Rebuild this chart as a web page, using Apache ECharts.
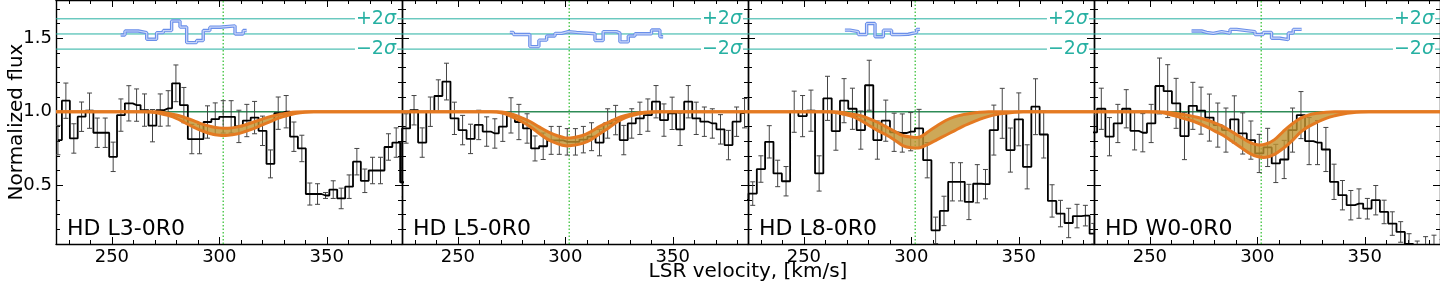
<!DOCTYPE html>
<html><head><meta charset="utf-8">
<script src="https://cdn.jsdelivr.net/npm/echarts@6/dist/echarts.min.js"></script>
<style>html,body{margin:0;padding:0;background:#fff;}#c{width:1440px;height:288px;}</style>
</head><body><div id="c"></div>
<script>
// ---------- data ----------
const panelNames = ['HD L3-0R0', 'HD L5-0R0', 'HD L8-0R0', 'HD W0-0R0'];
const xTicks = [250, 300, 350];
const xMinor = [230, 240, 260, 270, 280, 290, 310, 320, 330, 340, 360, 370, 380];
const yTicks = [0.5, 1.0, 1.5];
const yMinor = [0.2, 0.3, 0.4, 0.6, 0.7, 0.8, 0.9, 1.1, 1.2, 1.3, 1.4, 1.6, 1.7];
const sigmaLevels = [1.426, 1.529, 1.632];
const sigmaLabelLevels = [1.632, 1.426];
const sigmaLabelSigns = ['+2', '\u22122'];
const continuumLevel = 1.0;
const lineCenter = 301.8;

const vel1 = [224.9, 228.6, 232.3, 235.9, 239.6, 243.2, 246.9, 250.6, 254.2, 257.9, 261.5, 265.2, 268.9, 272.5, 276.2, 279.8, 283.5, 287.2, 290.8, 294.5, 298.1, 301.8, 305.5, 309.1, 312.8, 316.4, 320.1, 323.8, 327.4, 331.1, 334.7, 338.4, 342.1, 345.7, 349.4, 353.0, 356.7, 360.4, 364.0, 367.7, 371.3, 375.0, 378.7, 382.3, 386.0];
const flux1 = [0.807, 1.075, 0.818, 0.966, 1.007, 0.857, 0.857, 0.693, 0.977, 1.057, 1.045, 1.011, 0.905, 1.011, 1.023, 1.193, 1.045, 0.814, 0.814, 0.93, 0.95, 0.965, 0.965, 0.90, 0.94, 0.96, 0.87, 0.645, 0.99, 1.0, 0.83, 0.75, 0.44, 0.44, 0.43, 0.47, 0.41, 0.49, 0.66, 0.53, 0.60, 0.60, 0.76, 0.79, 0.52];
const err1 = [0.10, 0.12, 0.10, 0.10, 0.12, 0.10, 0.10, 0.10, 0.11, 0.12, 0.11, 0.11, 0.11, 0.11, 0.12, 0.125, 0.12, 0.10, 0.10, 0.11, 0.11, 0.11, 0.11, 0.11, 0.11, 0.11, 0.10, 0.095, 0.11, 0.11, 0.10, 0.09, 0.075, 0.07, 0.02, 0.06, 0.07, 0.08, 0.09, 0.08, 0.09, 0.09, 0.09, 0.10, 0.10];

const vel2 = [222.2, 225.9, 229.6, 233.4, 237.2, 240.9, 244.7, 248.4, 252.2, 255.9, 259.7, 263.4, 267.2, 270.9, 274.7, 278.4, 282.2, 285.9, 289.7, 293.4, 297.2, 300.9, 304.7, 308.4, 312.2, 315.9, 319.7, 323.4, 327.2, 330.9, 334.7, 338.4, 342.2, 345.9, 349.7, 353.4, 357.2, 360.9, 364.7, 368.4, 372.2, 375.9, 379.7, 383.4];
const flux2 = [0.52, 0.886, 1.01, 0.79, 1.0, 1.107, 1.205, 0.955, 0.875, 0.815, 0.91, 0.865, 0.852, 0.898, 0.975, 0.93, 0.886, 0.75, 0.765, 0.805, 0.805, 0.795, 0.795, 0.81, 0.83, 0.79, 0.92, 0.943, 0.807, 0.92, 0.955, 0.977, 1.068, 0.943, 0.989, 0.88, 1.068, 0.955, 0.932, 0.92, 0.88, 0.773, 0.932, 0.99];
const err2 = [0.10, 0.10, 0.10, 0.10, 0.10, 0.11, 0.125, 0.11, 0.10, 0.10, 0.10, 0.10, 0.10, 0.10, 0.12, 0.12, 0.10, 0.085, 0.09, 0.095, 0.095, 0.09, 0.09, 0.09, 0.095, 0.09, 0.10, 0.10, 0.10, 0.10, 0.11, 0.11, 0.11, 0.11, 0.11, 0.11, 0.11, 0.11, 0.10, 0.10, 0.10, 0.10, 0.10, 0.10];

const vel3 = [222.3, 226.2, 230.0, 233.9, 237.8, 241.7, 245.5, 249.4, 253.3, 257.1, 261.0, 264.9, 268.7, 272.6, 276.5, 280.4, 284.2, 288.1, 292.0, 295.8, 299.7, 303.6, 307.4, 311.3, 315.2, 319.1, 322.9, 326.8, 330.7, 334.5, 338.4, 342.3, 346.1, 350.0, 353.9, 357.8, 361.6, 365.5, 369.4, 373.2, 377.1, 381.0, 384.9];
const flux3 = [0.40, 0.443, 0.61, 0.795, 0.58, 0.527, 1.0, 0.97, 1.007, 0.58, 1.091, 0.868, 1.075, 1.02, 0.875, 1.18, 0.807, 0.939, 0.86, 0.855, 0.864, 0.886, 0.67, 0.193, 0.325, 0.523, 0.523, 0.386, 0.51, 0.507, 0.875, 0.989, 0.739, 0.948, 0.625, 1.034, 0.845, 0.393, 0.307, 0.243, 0.29, 0.293, 0.17];
const err3 = [0.07, 0.08, 0.09, 0.11, 0.09, 0.10, 0.14, 0.14, 0.14, 0.12, 0.15, 0.13, 0.15, 0.14, 0.13, 0.17, 0.13, 0.14, 0.13, 0.13, 0.13, 0.13, 0.12, 0.09, 0.10, 0.13, 0.13, 0.12, 0.13, 0.10, 0.17, 0.17, 0.15, 0.18, 0.15, 0.19, 0.16, 0.11, 0.09, 0.10, 0.08, 0.07, 0.07];

const vel4 = [223.5, 227.4, 231.2, 235.1, 239.0, 242.9, 246.7, 250.6, 254.5, 258.3, 262.2, 266.1, 270.0, 273.8, 277.7, 281.6, 285.4, 289.3, 293.2, 297.0, 300.9, 304.8, 308.6, 312.5, 316.4, 320.3, 324.1, 328.0, 331.9, 335.7, 339.6, 343.5, 347.3, 351.2, 355.1, 359.0, 362.8, 366.7, 370.6, 374.4, 378.3, 382.2, 386.0];
const flux4 = [0.86, 1.02, 0.83, 0.92, 1.02, 0.87, 0.857, 0.92, 1.175, 1.14, 1.057, 0.834, 1.04, 1.007, 0.96, 0.909, 0.875, 0.948, 0.852, 0.807, 0.716, 0.757, 0.648, 0.675, 0.875, 0.977, 0.80, 0.79, 0.743, 0.523, 0.432, 0.364, 0.375, 0.34, 0.398, 0.318, 0.239, 0.182, 0.10, 0.04, 0.06, 0.07, 0.05];
const err4 = [0.12, 0.14, 0.13, 0.13, 0.13, 0.13, 0.13, 0.13, 0.19, 0.18, 0.17, 0.16, 0.16, 0.16, 0.16, 0.15, 0.15, 0.16, 0.14, 0.13, 0.13, 0.13, 0.13, 0.13, 0.15, 0.16, 0.16, 0.15, 0.15, 0.12, 0.10, 0.10, 0.10, 0.07, 0.10, 0.08, 0.08, 0.07, 0.07, 0.08, 0.09, 0.09, 0.08];

const modelVel = [220, 248, 252, 256, 260, 264, 268, 272, 276, 280, 284, 288, 292, 296, 300, 304, 308, 312, 316, 320, 324, 328, 332, 336, 340, 344, 348, 352, 356, 360, 392];
const modelUp1 = [1, 1, 1, 1, 1, 1, 1.0, 0.998, 0.99, 0.978, 0.96, 0.94, 0.915, 0.9, 0.89, 0.888, 0.895, 0.91, 0.93, 0.95, 0.968, 0.982, 0.992, 0.998, 1, 1, 1, 1, 1, 1, 1];
const modelLo1 = [1, 1, 1, 1, 1, 1, 0.998, 0.99, 0.975, 0.955, 0.925, 0.895, 0.87, 0.85, 0.84, 0.84, 0.848, 0.865, 0.885, 0.91, 0.935, 0.958, 0.975, 0.99, 0.997, 1, 1, 1, 1, 1, 1];
const modelUp2 = [1, 1, 1, 1, 1, 1, 1.0, 0.995, 0.98, 0.957, 0.93, 0.895, 0.863, 0.838, 0.822, 0.825, 0.838, 0.865, 0.9, 0.928, 0.955, 0.975, 0.988, 0.995, 1, 1, 1, 1, 1, 1, 1];
const modelLo2 = [1, 1, 1, 1, 1, 1, 0.998, 0.985, 0.96, 0.93, 0.895, 0.85, 0.81, 0.785, 0.768, 0.772, 0.785, 0.81, 0.85, 0.888, 0.93, 0.96, 0.978, 0.99, 0.997, 1, 1, 1, 1, 1, 1];
const modelUp3 = [1, 1, 1, 1, 1, 1.0, 0.995, 0.985, 0.975, 0.955, 0.93, 0.9, 0.868, 0.838, 0.828, 0.828, 0.865, 0.905, 0.94, 0.965, 0.98, 0.99, 0.996, 1, 1, 1, 1, 1, 1, 1, 1];
const modelLo3 = [1, 1, 1, 1, 1, 0.997, 0.985, 0.97, 0.945, 0.91, 0.875, 0.845, 0.81, 0.77, 0.755, 0.755, 0.78, 0.81, 0.84, 0.87, 0.9, 0.925, 0.95, 0.968, 0.982, 0.99, 0.996, 1, 1, 1, 1];
const modelUp4 = [1, 1, 1, 0.998, 0.993, 0.985, 0.975, 0.962, 0.945, 0.925, 0.9, 0.865, 0.83, 0.795, 0.775, 0.78, 0.81, 0.865, 0.915, 0.955, 0.978, 0.99, 0.997, 1, 1, 1, 1, 1, 1, 1, 1];
const modelLo4 = [1, 1, 0.998, 0.993, 0.978, 0.962, 0.945, 0.925, 0.9, 0.87, 0.84, 0.8, 0.76, 0.72, 0.695, 0.69, 0.71, 0.75, 0.8, 0.86, 0.9, 0.93, 0.955, 0.972, 0.985, 0.993, 0.998, 1, 1, 1, 1];

const blueEdges1 = [254.1, 256.1, 262.3, 266.2, 270.8, 273.9, 277.8, 281.7, 284.8, 289.4, 292.5, 295.6, 300.3, 307.3, 311.1, 312.7];
const blueVals1 = [1.522, 1.549, 1.538, 1.493, 1.538, 1.552, 1.617, 1.576, 1.47, 1.484, 1.552, 1.575, 1.584, 1.529, 1.552];
const blueEdges2 = [274.2, 275.8, 283.5, 287.7, 291.3, 295.2, 298.3, 301.4, 305.2, 313.8, 317.6, 323.8, 325.4, 329.3, 332.4, 340.1, 344.0, 345.5];
const blueVals2 = [1.54, 1.525, 1.443, 1.487, 1.515, 1.533, 1.545, 1.54, 1.53, 1.484, 1.545, 1.535, 1.475, 1.515, 1.53, 1.556, 1.51];
const blueEdges3 = [269.1, 271.4, 275.3, 279.2, 283.1, 287.0, 290.8, 294.7, 298.6, 302.5, 304.0];
const blueVals3 = [1.555, 1.545, 1.525, 1.6, 1.51, 1.555, 1.525, 1.527, 1.54, 1.56];
const blueEdges4 = [269.4, 274.1, 276.4, 279.5, 283.4, 287.3, 290.4, 295.0, 298.9, 302.8, 306.6, 310.5, 314.4, 316.7, 320.6];
const blueVals4 = [1.549, 1.54, 1.533, 1.545, 1.535, 1.56, 1.552, 1.545, 1.525, 1.54, 1.5, 1.49, 1.535, 1.56];

// ---------- build ----------
const panels = [
  {name: panelNames[0], vel: vel1, flux: flux1, err: err1, up: modelUp1, lo: modelLo1, be: blueEdges1, bv: blueVals1},
  {name: panelNames[1], vel: vel2, flux: flux2, err: err2, up: modelUp2, lo: modelLo2, be: blueEdges2, bv: blueVals2},
  {name: panelNames[2], vel: vel3, flux: flux3, err: err3, up: modelUp3, lo: modelLo3, be: blueEdges3, bv: blueVals3},
  {name: panelNames[3], vel: vel4, flux: flux4, err: err4, up: modelUp4, lo: modelLo4, be: blueEdges4, bv: blueVals4}
];
const XMIN = 224, XMAX = 385, YMIN = 0.1, YMAX = 1.76;
const FONT = 'DejaVu Sans';
const TEAL = '#26b0a2', ORANGE = '#e47a22', FILL = 'rgba(192,146,46,0.8)', BLUE = '#6a8fea';
const PW = 346, PL = 56, PH = 244;

const grid = [], xAxis = [], yAxis = [], series = [], graphic = [];

function mkX(gi, pos, ticks, len, showLine, showLabel) {
  return {type: 'value', gridIndex: gi, position: pos, min: XMIN, max: XMAX,
    axisLine: {show: showLine, onZero: false, lineStyle: {color: '#000', width: 1.4}},
    axisTick: {show: true, inside: true, length: len, customValues: ticks, lineStyle: {color: '#000', width: 1}},
    axisLabel: {show: showLabel, customValues: ticks, margin: 4, color: '#000', fontSize: 18, fontFamily: FONT},
    splitLine: {show: false}};
}
function mkY(gi, pos, ticks, len, showLine, showLabel) {
  return {type: 'value', gridIndex: gi, position: pos, min: YMIN, max: YMAX,
    axisLine: {show: showLine, onZero: false, lineStyle: {color: '#000', width: 1.4}},
    axisTick: {show: true, inside: true, length: len, customValues: ticks, lineStyle: {color: '#000', width: 1}},
    axisLabel: {show: showLabel, customValues: ticks, margin: 4, color: '#000', fontSize: 18, fontFamily: FONT,
      formatter: v => v.toFixed(1)},
    splitLine: {show: false}};
}
function hline(xi, yi, y, color, width, z) {
  return {type: 'line', xAxisIndex: xi, yAxisIndex: yi, z: z, silent: true, symbol: 'none',
    data: [[XMIN, y], [XMAX, y]], lineStyle: {color: color, width: width}};
}

panels.forEach((p, i) => {
  grid.push({left: PL + PW * i, top: 0, width: PW, height: PH});
  xAxis.push(mkX(i, 'bottom', xTicks, 7, true, true));
  xAxis.push(mkX(i, 'bottom', xMinor, 4, false, false));
  xAxis.push(mkX(i, 'top', xTicks, 7, true, false));
  xAxis.push(mkX(i, 'top', xMinor, 4, false, false));
  yAxis.push(mkY(i, 'left', yTicks, 7, true, i === 0));
  yAxis.push(mkY(i, 'left', yMinor, 4, false, false));
  yAxis.push(mkY(i, 'right', yTicks, 7, true, false));
  yAxis.push(mkY(i, 'right', yMinor, 4, false, false));
  const xi = 4 * i, yi = 4 * i;

  // reference lines
  series.push(hline(xi, yi, continuumLevel, '#2e8b57', 1.5, 1));
  sigmaLevels.forEach(v => series.push(hline(xi, yi, v, TEAL, 1, 1)));
  series.push({type: 'line', xAxisIndex: xi, yAxisIndex: yi, z: 1, silent: true, symbol: 'none',
    data: [[lineCenter, YMIN], [lineCenter, YMAX]], lineStyle: {color: '#2bbd2b', width: 1.2, type: [1.5, 2]}});

  // black histogram
  series.push({type: 'line', xAxisIndex: xi, yAxisIndex: yi, z: 3, step: 'middle', symbol: 'none', clip: true,
    data: p.vel.map((v, j) => [v, p.flux[j]]), lineStyle: {color: '#000', width: 1.8}});

  // error bars
  series.push({type: 'custom', xAxisIndex: xi, yAxisIndex: yi, z: 3, clip: true, silent: true,
    data: p.vel.map((v, j) => [v, p.flux[j] - p.err[j], p.flux[j] + p.err[j]]),
    encode: {x: 0, y: [1, 2]},
    renderItem: (params, api) => {
      const a = api.coord([api.value(0), api.value(1)]);
      const b = api.coord([api.value(0), api.value(2)]);
      const w = 2.5, st = {stroke: '#444', lineWidth: 1};
      return {type: 'group', children: [
        {type: 'line', shape: {x1: a[0], y1: a[1], x2: b[0], y2: b[1]}, style: st},
        {type: 'line', shape: {x1: a[0] - w, y1: a[1], x2: a[0] + w, y2: a[1]}, style: st},
        {type: 'line', shape: {x1: b[0] - w, y1: b[1], x2: b[0] + w, y2: b[1]}, style: st}]};
    }});

  // model band: filled polygon between lower and upper model curves, orange edges
  series.push({type: 'custom', xAxisIndex: xi, yAxisIndex: yi, z: 5, clip: true, silent: true,
    data: [[lineCenter, 1]],
    renderItem: (params, api) => {
      const upPts = modelVel.map((v, j) => api.coord([v, p.up[j]]));
      const loPts = modelVel.map((v, j) => api.coord([v, p.lo[j]]));
      return {type: 'group', children: [
        {type: 'polygon', shape: {points: upPts.concat(loPts.slice().reverse()), smooth: 0.35}, style: {fill: FILL}},
        {type: 'polyline', shape: {points: loPts, smooth: 0.35}, style: {stroke: ORANGE, lineWidth: 3, fill: null}},
        {type: 'polyline', shape: {points: upPts, smooth: 0.35}, style: {stroke: ORANGE, lineWidth: 3, fill: null}}]};
    }});

  // blue residual steps (double line look)
  const bdata = p.be.map((e, j) => [e, p.bv[Math.min(j, p.bv.length - 1)]]);
  series.push({type: 'line', xAxisIndex: xi, yAxisIndex: yi, z: 4, step: 'end', symbol: 'none',
    data: bdata, lineStyle: {color: BLUE, width: 3.4}});
  series.push({type: 'line', xAxisIndex: xi, yAxisIndex: yi, z: 4, step: 'end', symbol: 'none',
    data: bdata, lineStyle: {color: '#c9d6f8', width: 1.2}});

  // sigma labels
  series.push({type: 'custom', xAxisIndex: xi, yAxisIndex: yi, z: 6, silent: true,
    data: sigmaLabelLevels.map(v => [XMAX, v]),
    renderItem: (params, api) => {
      const c = api.coord([api.value(0), api.value(1)]);
      return {type: 'text', x: c[0] - 5, y: c[1], style: {
        text: '{a|' + sigmaLabelSigns[params.dataIndex] + '}{b|\u03c3}',
        rich: {a: {fontSize: 19, fontFamily: FONT, fill: TEAL, color: TEAL},
               b: {fontSize: 19, fontFamily: FONT, fontStyle: 'italic', fill: TEAL, color: TEAL}},
        align: 'right', verticalAlign: 'middle', backgroundColor: '#fff', padding: [0, 1]}};
    }});

  graphic.push({type: 'text', x: PL + PW * i + 11, y: 229, z: 10, style: {text: p.name, fontSize: 22,
    fontFamily: FONT, fill: '#000', verticalAlign: 'middle'}});
});

graphic.push({type: 'text', x: 17, y: 122, rotation: Math.PI / 2, z: 10, style: {text: 'Normalized flux',
  fontSize: 20, fontFamily: FONT, fill: '#000', align: 'center', verticalAlign: 'middle'}});
graphic.push({type: 'text', x: 748, y: 272, z: 10, style: {text: 'LSR velocity, [km/s]',
  fontSize: 20, fontFamily: FONT, fill: '#000', align: 'center', verticalAlign: 'middle'}});

const chart = echarts.init(document.getElementById('c'), null, {renderer: 'canvas'});
chart.setOption({animation: false, backgroundColor: '#fff', textStyle: {fontFamily: FONT},
  grid, xAxis, yAxis, series, graphic});
</script></body></html>
